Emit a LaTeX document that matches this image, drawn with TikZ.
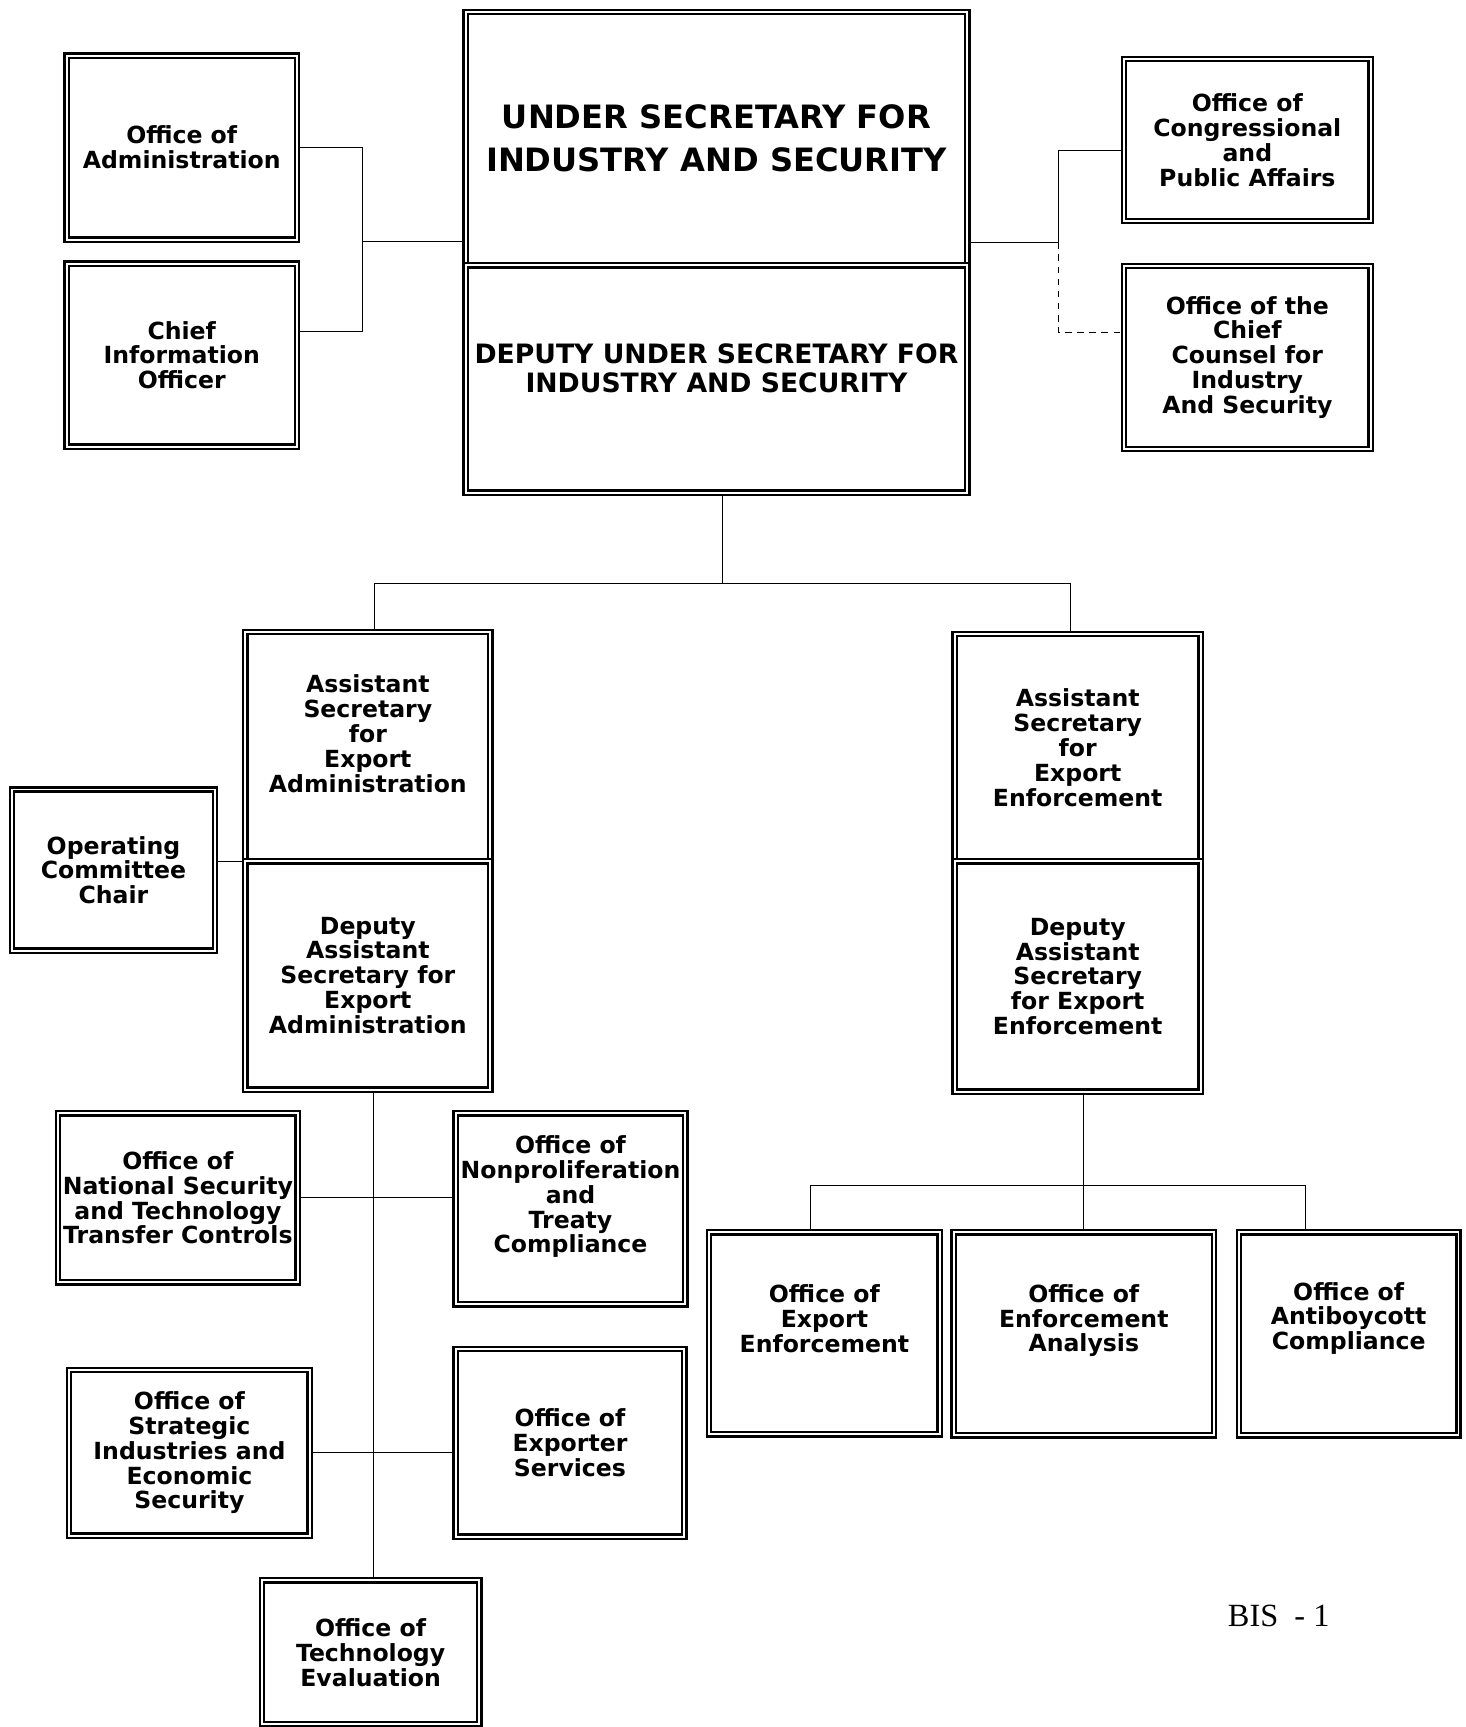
\documentclass[tikz,border=0pt]{standalone}
\usepackage{fontspec}
\setmainfont{DejaVu Sans}
\newfontfamily\pagefont{Liberation Serif}
\usetikzlibrary{positioning,backgrounds}

\begin{document}
\begin{tikzpicture}[x=0.5pt, y=-0.5pt,
  % Box styles
  unit/.style={draw, double, double distance=0.9pt, line width=1.05pt, outer sep=0pt,
               inner sep=1pt, font=\fontsize{10.7}{11.3}\selectfont\bfseries, align=center},
  head/.style={unit, minimum width=227.7pt},
  % Raised text inside a box
  txt/.style={font=\fontsize{10.7}{11.3}\selectfont\bfseries, align=center, inner sep=1pt},
  % Connector style
  link/.style={line width=1.2pt},
]
\useasboundingbox (0,0) rectangle (1331,1568);

% === Top: Under Secretary and staff offices ===
\node[unit, minimum width=104.5pt, minimum height=83.5pt] (oa) at (165,134) {Office of\\Administration};
\node[unit, minimum width=104.5pt, minimum height=83pt] (cio) at (165,322.5) {Chief\\Information\\Officer};

\node[head, minimum height=115.1pt, font=\fontsize{14.6}{19.5}\selectfont\bfseries] (us) at (650.5,125.9)
  {UNDER SECRETARY FOR\\INDUSTRY AND SECURITY};
\node[head, below=0pt of us, minimum height=103.1pt,
  label={[txt, yshift=5pt, font=\fontsize{12.1}{13}\selectfont\bfseries]center:{DEPUTY UNDER SECRETARY FOR\\INDUSTRY AND SECURITY}}] (dus) {};

\node[unit, minimum width=112pt, minimum height=73.5pt] (ocpa) at (1132.5,127) {Office of\\Congressional\\and\\Public Affairs};
\node[unit, minimum width=112pt, minimum height=83pt] (occ) at (1132.5,324.5) {Office of the\\Chief\\Counsel for\\Industry\\And Security};

% === Export Administration ===
\node[unit, minimum width=111.2pt, minimum height=104.1pt,
  label={[txt, yshift=6pt]center:{Assistant\\Secretary\\for\\Export\\Administration}}] (asea) at (334,677.9) {};
\node[unit, below=0pt of asea, minimum width=111.2pt, minimum height=103.6pt] (dasea) {Deputy\\Assistant\\Secretary for\\Export\\Administration};
\node[unit, minimum width=92.2pt, minimum height=73.2pt] (opc) at (103,790) {Operating\\Committee\\Chair};

\node[unit, minimum width=108.7pt, minimum height=76.7pt] (onstc) at (161.5,1087.5) {Office of\\National Security\\and Technology\\Transfer Controls};
\node[unit, minimum width=104.2pt, minimum height=86.7pt,
  label={[txt, yshift=5.5pt]center:{Office of\\Nonproliferation\\and\\Treaty\\Compliance}}] (ontc) at (518,1097.5) {};
\node[unit, minimum width=109.2pt, minimum height=75.2pt] (osies) at (172,1319) {Office of\\Strategic\\Industries and\\Economic\\Security};
\node[unit, minimum width=103.7pt, minimum height=85.2pt] (oes) at (517.5,1310) {Office of\\Exporter\\Services};
\node[unit, minimum width=98.7pt, minimum height=65.4pt] (ote) at (336.5,1500.2) {Office of\\Technology\\Evaluation};

% === Export Enforcement ===
\node[unit, minimum width=111.7pt, minimum height=103.1pt] (asee) at (978.5,678.9) {Assistant\\Secretary\\for\\Export\\Enforcement};
\node[unit, below=0pt of asee, minimum width=111.7pt, minimum height=104.6pt] (dasee) {Deputy\\Assistant\\Secretary\\for Export\\Enforcement};

\node[unit, minimum width=104.7pt, minimum height=91.7pt,
  label={[txt, yshift=6.5pt]center:{Office of\\Export\\Enforcement}}] (oee) at (748.5,1210.5) {};
\node[unit, minimum width=118.2pt, minimum height=92.2pt,
  label={[txt, yshift=6pt]center:{Office of\\Enforcement\\Analysis}}] (oea) at (984,1211) {};
\node[unit, minimum width=99.7pt, minimum height=92.2pt,
  label={[txt, yshift=7pt]center:{Office of\\Antiboycott\\Compliance}}] (oac) at (1224.5,1211) {};

\node[font=\pagefont\fontsize{14.7}{16}\selectfont] (bis) at (1161,1467) {BIS\enspace- 1};

% === Connectors ===
\coordinate (jl) at (329,219);
\coordinate (jr) at (961,220);
\coordinate (jc) at (656,530);
\coordinate (jb) at (984,1076);

\begin{scope}[on background layer, link]
\draw (oa.east) -| (jl);
\draw ([yshift=10.75pt]cio.east) -| (jl);
\draw (jl) -- (jl -| us.west);
\draw (jr -| us.east) -- (jr) |- ([yshift=-5pt]ocpa.west);
\draw[dash pattern=on 3pt off 2.5pt] (jr) |- ([yshift=11.25pt]occ.west);

\draw (jc |- dus.south) -- (jc);
\draw ([xshift=3pt]asea.north) |- (jc) -| ([xshift=-3.25pt]asee.north);
\draw (opc.east |- asea.south) -- (asea.south west);

\draw ([xshift=2.5pt]dasea.south) -- ([xshift=2.5pt]dasea.south |- ote.north);
\draw (onstc.east) -- (onstc.east -| ontc.west);
\draw (osies.east) -- (osies.east -| oes.west);

\draw (oea.north |- dasee.south) -- (oea.north);
\draw ([xshift=-6.25pt]oee.north) |- (jb) -| ([xshift=-19.75pt]oac.north);
\end{scope}

\end{tikzpicture}
\end{document}
